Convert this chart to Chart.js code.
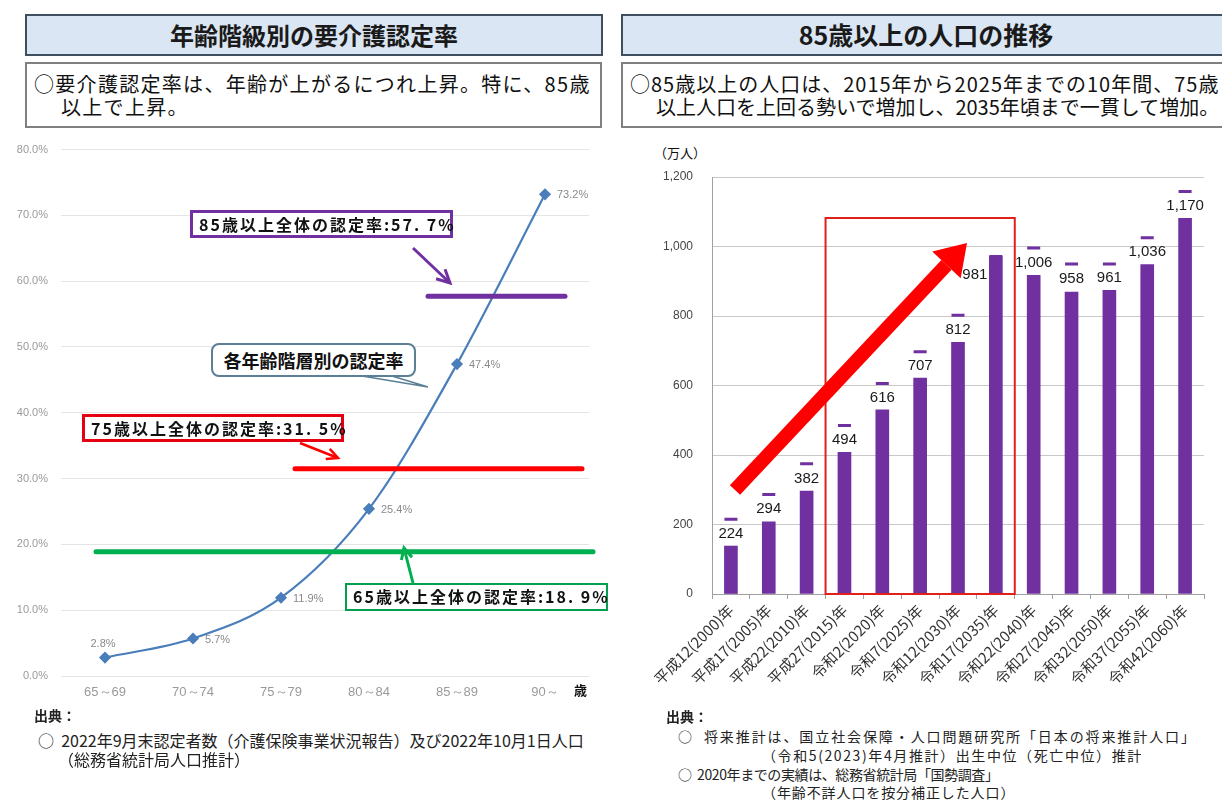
<!DOCTYPE html>
<html lang="ja">
<head>
<meta charset="utf-8">
<script src="https://cdn.jsdelivr.net/npm/chart.js@4.4.1/dist/chart.umd.min.js"></script>
<style>
  body { margin:0; background:#fff; font-family:"Noto Sans CJK JP", sans-serif; color:#111; }
  #page { position:relative; width:1222px; height:800px; overflow:hidden; }
  .abs { position:absolute; white-space:nowrap; }
  .title { box-sizing:border-box; height:42px; background:#dae6f3; border:2px solid #3f4f60; font-weight:bold; font-size:24px; line-height:37px; text-align:center; color:#1a1a1a; }
  .sub { box-sizing:border-box; height:66px; border:2px solid #808080; background:#fff; }
  .line { font-size:20px; line-height:23px; }
  .src { font-size:14px; line-height:19px; color:#222; }
  .note { box-sizing:border-box; height:28px; background:#fff; font-size:16px; line-height:23px; padding-left:6px; font-weight:bold; letter-spacing:2px; }
  canvas { position:absolute; }
</style>
</head>
<body>
<div id="page">
  <!-- left panel -->
  <div class="abs title" style="left:25px;top:14px;width:578px;">年齢階級別の要介護認定率</div>
  <div class="abs sub" style="left:25px;top:62px;width:577px;"></div>
  <div class="abs line" style="left:34px;top:72px;letter-spacing:1.3px;">○要介護認定率は、年齢が上がるにつれ上昇。特に、85歳</div>
  <div class="abs line" style="left:61px;top:95px;letter-spacing:1.3px;">以上で上昇。</div>

  <canvas id="rateChart" width="610" height="580" style="left:0;top:130px;"></canvas>

  <div class="abs note" style="left:190px;top:210px;width:263px;border:3px solid #7030a0;">85歳以上全体の認定率:57. 7%</div>
  <div class="abs" style="left:211px;top:343px;width:205px;height:34px;box-sizing:border-box;border:2px solid #5b7f95;border-radius:8px;background:#fff;font-weight:bold;font-size:18px;line-height:30px;text-align:center;">各年齢階層別の認定率</div>
  <div class="abs note" style="left:82px;top:414px;width:262px;border:3px solid #e60012;">75歳以上全体の認定率:31. 5%</div>
  <div class="abs note" style="left:345px;top:583px;width:263px;border:2px solid #00a050;">65歳以上全体の認定率:18. 9%</div>
  <div class="abs" style="left:574px;top:680px;font-size:13px;font-weight:bold;">歳</div>

  <div class="abs src" style="left:34px;top:706px;font-weight:bold;">出典：</div>
  <div class="abs src" style="left:38px;top:731px;font-size:16px;">○&nbsp; 2022年9月末認定者数（介護保険事業状況報告）及び2022年10月1日人口</div>
  <div class="abs src" style="left:58px;top:750px;font-size:16px;">（総務省統計局人口推計）</div>

  <!-- right panel -->
  <div class="abs title" style="left:621px;top:14px;width:610px;font-size:25px;">85歳以上の人口の推移</div>
  <div class="abs sub" style="left:621px;top:62px;width:610px;"></div>
  <div class="abs line" style="left:630px;top:72px;letter-spacing:1px;">○85歳以上の人口は、2015年から2025年までの10年間、75歳</div>
  <div class="abs line" style="left:656px;top:95px;">以上人口を上回る勢いで増加し、2035年頃まで一貫して増加。</div>
  <div class="abs" style="left:654px;top:143px;font-size:13px;">（万人）</div>

  <canvas id="popChart" width="612" height="575" style="left:610px;top:140px;"></canvas>

  <div class="abs src" style="left:666px;top:707px;font-weight:bold;">出典：</div>
  <div class="abs src" style="left:678px;top:727px;letter-spacing:1.9px;">○&nbsp; 将来推計は、国立社会保障・人口問題研究所「日本の将来推計人口」</div>
  <div class="abs src" style="left:762px;top:746px;letter-spacing:1.6px;">（令和5(2023)年4月推計）出生中位（死亡中位）推計</div>
  <div class="abs src" style="left:678px;top:765px;letter-spacing:-0.4px;">○&nbsp; 2020年までの実績は、総務省統計局「国勢調査」</div>
  <div class="abs src" style="left:762px;top:783px;letter-spacing:0.9px;">（年齢不詳人口を按分補正した人口）</div>
</div>

<script>
// ---- left chart data ----
const ageGroups = ['65～69', '70～74', '75～79', '80～84', '85～89', '90～']
const certRate = [2.8, 5.7, 11.9, 25.4, 47.4, 73.2]
const rateTicks = [0, 10, 20, 30, 40, 50, 60, 70, 80]
const overallRate = [57.7, 31.5, 18.9]   // 85歳以上, 75歳以上, 65歳以上

// ---- right chart data ----
const years = ['平成12(2000)年', '平成17(2005)年', '平成22(2010)年', '平成27(2015)年', '令和2(2020)年',
  '令和7(2025)年', '令和12(2030)年', '令和17(2035)年', '令和22(2040)年', '令和27(2045)年',
  '令和32(2050)年', '令和37(2055)年', '令和42(2060)年']
const pop85 = [224, 294, 382, 494, 616, 707, 812, 981, 1006, 958, 961, 1036, 1170]
// bars and the small caps as they are drawn in the picture
const barTops = [138, 208, 296, 408, 530, 621, 724, 971, 917, 869, 874, 948, 1081]
const capTops = [215, 286, 375, 485, 606, 697, 802, 971, 996, 950, 950, 1025, 1158]
const popTicks = [0, 200, 400, 600, 800, 1000, 1200]

const tickFont = { family: 'Liberation Sans', size: 11 }

function drawArrow(ctx, x1, y1, x2, y2, color, w, head, open) {
  const a = Math.atan2(y2 - y1, x2 - x1)
  const bx = x2 - Math.cos(a) * head, by = y2 - Math.sin(a) * head
  const hw = head * (open ? 0.5 : 0.65)
  ctx.save()
  ctx.strokeStyle = color
  ctx.fillStyle = color
  ctx.lineWidth = w
  ctx.beginPath()
  ctx.moveTo(x1, y1)
  ctx.lineTo(open ? x2 : bx, open ? y2 : by)
  ctx.stroke()
  ctx.beginPath()
  ctx.moveTo(bx + Math.sin(a) * hw, by - Math.cos(a) * hw)
  ctx.lineTo(x2, y2)
  ctx.lineTo(bx - Math.sin(a) * hw, by + Math.cos(a) * hw)
  if (open) { ctx.stroke() } else { ctx.closePath(); ctx.fill() }
  ctx.restore()
}

const rateDecor = {
  id: 'rateDecor',
  afterDatasetsDraw(chart) {
    const ctx = chart.ctx
    const y = chart.scales.y
    const spans = [[428, 565], [295, 582], [96, 593]]
    const colors = ['#7030a0', '#ff0000', '#00b050']
    overallRate.forEach((v, i) => {
      ctx.save()
      ctx.strokeStyle = colors[i]
      ctx.lineWidth = 5
      ctx.lineCap = 'round'
      ctx.beginPath()
      ctx.moveTo(spans[i][0], y.getPixelForValue(v))
      ctx.lineTo(spans[i][1], y.getPixelForValue(v))
      ctx.stroke()
      ctx.restore()
    })
    drawArrow(ctx, 413, 118, 450, 153, '#7030a0', 3, 13, true)
    drawArrow(ctx, 300, 313, 338, 328, '#ff0000', 2.5, 11, true)
    drawArrow(ctx, 413, 453, 404, 418, '#00b050', 3, 11, true)
    // callout tail
    ctx.save()
    ctx.strokeStyle = '#5b7f95'
    ctx.lineWidth = 1.5
    ctx.beginPath()
    ctx.moveTo(362, 246); ctx.lineTo(428, 257); ctx.lineTo(392, 246)
    ctx.stroke()
    ctx.restore()
    // point labels
    const meta = chart.getDatasetMeta(0)
    ctx.save()
    ctx.font = '11px "Liberation Sans"'
    ctx.fillStyle = '#8a8a8a'
    ctx.textBaseline = 'middle'
    meta.data.forEach((p, i) => {
      const t = certRate[i].toFixed(1) + '%'
      if (i === 0) {
        ctx.textAlign = 'center'
        ctx.fillText(t, p.x - 2, p.y - 14)
      } else {
        ctx.textAlign = 'left'
        ctx.fillText(t, p.x + 12, p.y + 1)
      }
    })
    ctx.restore()
  }
}

new Chart(document.getElementById('rateChart'), {
  type: 'line',
  data: {
    labels: ageGroups,
    datasets: [{
      data: certRate,
      borderColor: '#4a7ebb',
      backgroundColor: '#4a7ebb',
      borderWidth: 2.2,
      cubicInterpolationMode: 'monotone',
      pointStyle: 'rectRot',
      pointRadius: 4.5
    }]
  },
  options: {
    responsive: false,
    animation: false,
    layout: { padding: { top: 13, right: 21, left: 0, bottom: 0 } },
    plugins: { legend: { display: false }, tooltip: { enabled: false } },
    scales: {
      x: {
        offset: true,
        grid: { display: false },
        border: { display: false },
        ticks: { color: '#9a9a9a', font: { family: 'Liberation Sans', size: 13 }, padding: 1 },
        afterFit: s => { s.height = 34 }
      },
      y: {
        min: 0, max: 80,
        afterBuildTicks: s => { s.ticks = rateTicks.map(v => ({ value: v })) },
        grid: { color: '#e4e4e4', drawTicks: false },
        border: { display: false },
        ticks: { color: '#9a9a9a', font: tickFont, padding: 13, callback: v => v.toFixed(1) + '%' },
        afterFit: s => { s.width = 61 }
      }
    }
  },
  plugins: [rateDecor]
})

const popDecor = {
  id: 'popDecor',
  afterDatasetsDraw(chart) {
    const ctx = chart.ctx
    const x = chart.scales.x, y = chart.scales.y
    // red frame 2015-2035
    const left = (x.getPixelForValue(2) + x.getPixelForValue(3)) / 2
    const right = (x.getPixelForValue(7) + x.getPixelForValue(8)) / 2
    ctx.save()
    ctx.strokeStyle = '#e0201b'
    ctx.lineWidth = 2
    ctx.strokeRect(left, y.getPixelForValue(1082), right - left, y.getPixelForValue(0) - y.getPixelForValue(1082))
    ctx.restore()
    // value labels
    ctx.save()
    ctx.font = '15px "Liberation Sans"'
    ctx.fillStyle = '#1a1a1a'
    ctx.textAlign = 'center'
    ctx.textBaseline = 'middle'
    pop85.forEach((v, i) => {
      const px = x.getPixelForValue(i)
      const yb = y.getPixelForValue(barTops[i]), yc = y.getPixelForValue(capTops[i])
      if (yb - yc < 5) {
        ctx.fillText(v.toLocaleString('en-US'), px - 21, yb + 18)
      } else {
        ctx.fillText(v.toLocaleString('en-US'), px, (yb + yc) / 2 + 1)
      }
    })
    ctx.restore()
    // big red arrow
    drawArrow(ctx, 125, 350, 357, 103, '#ff0000', 14, 30, false)
  }
}

new Chart(document.getElementById('popChart'), {
  data: {
    labels: years,
    datasets: [{
      type: 'line',
      data: capTops,
      showLine: false,
      pointStyle: 'line',
      pointRadius: 6.5,
      pointBorderWidth: 3,
      borderColor: '#7030a0',
      backgroundColor: '#7030a0'
    }, {
      type: 'bar',
      data: barTops,
      backgroundColor: '#7030a0',
      barThickness: 13
    }]
  },
  options: {
    responsive: false,
    animation: false,
    layout: { padding: { top: 37, right: 18, left: 0, bottom: 0 } },
    plugins: { legend: { display: false }, tooltip: { enabled: false } },
    scales: {
      x: {
        offset: true,
        grid: { offset: true, drawOnChartArea: false, drawTicks: true, tickLength: 5, color: '#a0a0a0' },
        border: { display: true, color: '#a0a0a0' },
        ticks: { color: '#333', font: { family: 'Noto Sans CJK JP', size: 15 }, minRotation: 45, maxRotation: 45, padding: 2 },
        afterFit: s => { s.height = 121 }
      },
      y: {
        min: 0, max: 1200,
        afterBuildTicks: s => { s.ticks = popTicks.map(v => ({ value: v })) },
        grid: { color: '#c8c8c8', drawTicks: false },
        border: { display: true, color: '#a0a0a0' },
        ticks: { color: '#444', font: { family: 'Liberation Sans', size: 12 }, padding: 19, callback: v => v.toLocaleString('en-US') },
        afterFit: s => { s.width = 102 }
      }
    }
  },
  plugins: [popDecor]
})
</script>
</body>
</html>
